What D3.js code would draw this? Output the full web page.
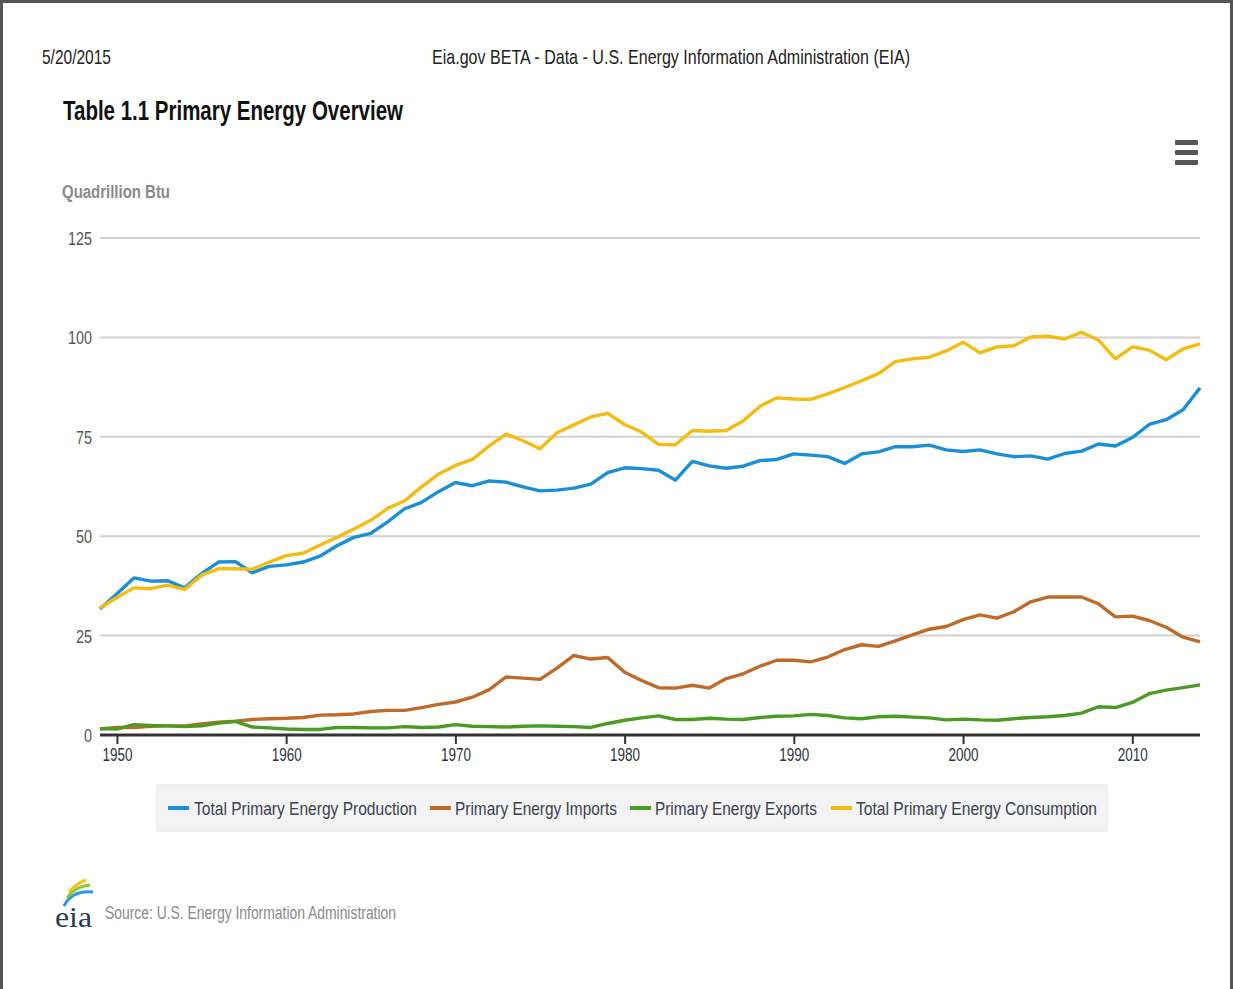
<!DOCTYPE html>
<html>
<head>
<meta charset="utf-8">
<script src="https://cdn.jsdelivr.net/npm/d3@7"></script>
<style>
  html, body { margin: 0; padding: 0; background: #fff; }
  svg { display: block; }
  text { font-family: "Liberation Sans Narrow", "Arial Narrow", "Liberation Sans", sans-serif; }
</style>
</head>
<body>
<svg id="chart" width="1234" height="989"></svg>
<script>
// annual values, quadrillion Btu, 1949 - 2014
const years = d3.range(1949, 2015);

const production = [
  31.7, 35.5, 39.5, 38.7, 38.8, 37.0, 40.6, 43.5, 43.6, 40.8,
  42.4, 42.8, 43.5, 45.0, 47.6, 49.7, 50.7, 53.6, 56.9, 58.5,
  61.2, 63.5, 62.7, 63.9, 63.6, 62.4, 61.4, 61.6, 62.1, 63.1,
  66.0, 67.2, 67.0, 66.6, 64.1, 68.8, 67.7, 67.1, 67.6, 69.0,
  69.3, 70.7, 70.4, 70.0, 68.3, 70.7, 71.2, 72.5, 72.5, 72.9,
  71.7, 71.3, 71.7, 70.7, 70.0, 70.2, 69.4, 70.8, 71.4, 73.2,
  72.7, 74.8, 78.1, 79.3, 81.8, 87.3
];

const imports = [
  1.5, 1.9, 1.9, 2.2, 2.3, 2.3, 2.8, 3.2, 3.5, 3.9,
  4.1, 4.2, 4.4, 5.0, 5.1, 5.3, 5.9, 6.2, 6.2, 6.9,
  7.7, 8.3, 9.5, 11.4, 14.6, 14.3, 14.0, 16.8, 20.0, 19.1,
  19.5, 15.8, 13.7, 11.9, 11.8, 12.5, 11.8, 14.2, 15.4, 17.3,
  18.8, 18.8, 18.4, 19.6, 21.5, 22.7, 22.3, 23.7, 25.2, 26.6,
  27.3, 29.0, 30.2, 29.4, 31.0, 33.5, 34.7, 34.7, 34.7, 33.0,
  29.7, 29.9, 28.8, 27.1, 24.6, 23.4
];

const exports = [
  1.6, 1.5, 2.6, 2.4, 2.3, 2.1, 2.3, 3.0, 3.4, 2.0,
  1.8, 1.5, 1.4, 1.4, 1.9, 1.9, 1.8, 1.8, 2.1, 1.9,
  2.0, 2.6, 2.2, 2.1, 2.0, 2.2, 2.3, 2.2, 2.1, 1.9,
  2.9, 3.7, 4.3, 4.8, 3.9, 3.9, 4.2, 4.0, 3.9, 4.4,
  4.7, 4.8, 5.2, 4.9, 4.3, 4.1, 4.6, 4.7, 4.5, 4.3,
  3.8, 4.0, 3.8, 3.7, 4.1, 4.4, 4.6, 4.9, 5.5, 7.1,
  6.9, 8.2, 10.4, 11.3, 11.9, 12.6
];

const consumption = [
  32.0, 34.6, 37.0, 36.8, 37.7, 36.6, 40.2, 41.8, 41.8, 41.7,
  43.5, 45.1, 45.7, 47.8, 49.7, 51.8, 54.0, 57.0, 58.9, 62.4,
  65.6, 67.8, 69.3, 72.7, 75.7, 74.0, 72.0, 76.0, 78.0, 80.0,
  80.9, 78.1, 76.2, 73.1, 73.0, 76.6, 76.4, 76.6, 79.0, 82.7,
  84.8, 84.5, 84.4, 85.8, 87.4, 89.1, 90.9, 93.9, 94.6, 95.0,
  96.6, 98.8, 96.1, 97.6, 97.9, 100.1, 100.3, 99.6, 101.3, 99.3,
  94.6, 97.6, 96.8, 94.4, 97.1, 98.4
];

const seriesNames = [
  'Total Primary Energy Production',
  'Primary Energy Imports',
  'Primary Energy Exports',
  'Total Primary Energy Consumption'
];
const seriesColors = ['#1b8fd6', '#c06a28', '#4a9a24', '#f4bc12'];
const seriesValues = [production, imports, exports, consumption];

const yTicks = [0, 25, 50, 75, 100, 125];
const xTicks = [1950, 1960, 1970, 1980, 1990, 2000, 2010];

const svg = d3.select('#chart');

// page frame
svg.append('rect')
  .attr('x', 1.5).attr('y', 1.5)
  .attr('width', 1230).attr('height', 1000)
  .attr('fill', 'none')
  .attr('stroke', '#555')
  .attr('stroke-width', 3);

// page header
svg.append('text')
  .attr('x', 42).attr('y', 64)
  .attr('font-size', 21)
  .attr('fill', '#222')
  .attr('textLength', 69).attr('lengthAdjust', 'spacingAndGlyphs')
  .text('5/20/2015');

svg.append('text')
  .attr('x', 432).attr('y', 64)
  .attr('font-size', 21)
  .attr('fill', '#222')
  .attr('textLength', 478).attr('lengthAdjust', 'spacingAndGlyphs')
  .text('Eia.gov BETA - Data - U.S. Energy Information Administration (EIA)');

// chart title
svg.append('text')
  .attr('x', 63).attr('y', 120)
  .attr('font-size', 27)
  .attr('font-weight', 'bold')
  .attr('fill', '#111')
  .attr('textLength', 340).attr('lengthAdjust', 'spacingAndGlyphs')
  .text('Table 1.1 Primary Energy Overview');

svg.append('text')
  .attr('x', 62).attr('y', 198)
  .attr('font-size', 18)
  .attr('font-weight', 'bold')
  .attr('fill', '#8a8a8a')
  .attr('textLength', 108).attr('lengthAdjust', 'spacingAndGlyphs')
  .text('Quadrillion Btu');

// context menu icon
svg.append('g')
  .selectAll('rect')
  .data([0, 1, 2])
  .join('rect')
  .attr('x', 1175)
  .attr('y', d => 140 + d * 10)
  .attr('width', 23)
  .attr('height', 5)
  .attr('rx', 1)
  .attr('fill', '#555');

const x = d3.scaleLinear().domain([1949, 2014]).range([100, 1200]);
const y = d3.scaleLinear().domain([0, 125]).range([735, 238]);

// grid
svg.append('g')
  .selectAll('line')
  .data(yTicks.filter(d => d > 0))
  .join('line')
  .attr('x1', x(1949)).attr('x2', x(2014))
  .attr('y1', d => y(d)).attr('y2', d => y(d))
  .attr('stroke', '#cfcfcf')
  .attr('stroke-width', 2);

// y labels
svg.append('g')
  .selectAll('text')
  .data(yTicks)
  .join('text')
  .attr('x', 92)
  .attr('y', d => y(d) + 7)
  .attr('text-anchor', 'end')
  .attr('font-size', 18)
  .attr('fill', '#555')
  .attr('textLength', d => String(d).length * 8)
  .attr('lengthAdjust', 'spacingAndGlyphs')
  .text(d => d);

// x axis
const xAxis = d3.axisBottom(x)
  .tickValues(xTicks)
  .tickFormat(d3.format('d'))
  .tickSize(9)
  .tickPadding(4);

const gx = svg.append('g')
  .attr('transform', `translate(0,${y(0)})`)
  .call(xAxis);

gx.select('.domain')
  .attr('d', `M${x(1949)},0H${x(2014)}`)
  .attr('stroke', '#333')
  .attr('stroke-width', 3);
gx.selectAll('.tick line').attr('stroke', '#333').attr('stroke-width', 2);
gx.selectAll('.tick text')
  .attr('font-size', 18)
  .attr('fill', '#2c3440')
  .attr('textLength', 30)
  .attr('lengthAdjust', 'spacingAndGlyphs')
  .style('font-family', '"Liberation Sans Narrow", "Arial Narrow", sans-serif');

// series lines
const line = d3.line()
  .x((d, i) => x(years[i]))
  .y(d => y(d));

svg.append('g')
  .selectAll('path')
  .data(seriesValues)
  .join('path')
  .attr('d', d => line(d))
  .attr('fill', 'none')
  .attr('stroke', (d, i) => seriesColors[i])
  .attr('stroke-width', 3.4)
  .attr('stroke-linejoin', 'round');

// legend
const legend = svg.append('g');
legend.append('rect')
  .attr('x', 157).attr('y', 785)
  .attr('width', 950).attr('height', 46)
  .attr('fill', '#f3f3f3')
  .attr('stroke', '#e6e6e6');

const legendItems = [
  { sx: 168, tx: 194, tw: 223 },
  { sx: 430, tx: 455, tw: 162 },
  { sx: 630, tx: 655, tw: 162 },
  { sx: 831, tx: 856, tw: 241 }
];

const item = legend.selectAll('g.item')
  .data(legendItems)
  .join('g')
  .attr('class', 'item');

item.append('line')
  .attr('x1', d => d.sx).attr('x2', d => d.sx + 21)
  .attr('y1', 808).attr('y2', 808)
  .attr('stroke', (d, i) => seriesColors[i])
  .attr('stroke-width', 4);

item.append('text')
  .attr('x', d => d.tx).attr('y', 815)
  .attr('font-size', 19)
  .attr('fill', '#3a4250')
  .attr('textLength', d => d.tw).attr('lengthAdjust', 'spacingAndGlyphs')
  .text((d, i) => seriesNames[i]);

// eia logo + source
const logo = svg.append('g');
logo.append('path')
  .attr('d', 'M64,906 Q72,890 93,892')
  .attr('fill', 'none')
  .attr('stroke', '#2a9ad8')
  .attr('stroke-width', 3);
logo.append('path')
  .attr('d', 'M67,898 Q75,886 90,885')
  .attr('fill', 'none')
  .attr('stroke', '#8cc63e')
  .attr('stroke-width', 3);
logo.append('path')
  .attr('d', 'M69,892 Q77,883 86,880')
  .attr('fill', 'none')
  .attr('stroke', '#f2c21b')
  .attr('stroke-width', 3);
logo.append('text')
  .attr('x', 55).attr('y', 927)
  .attr('font-size', 30)
  .attr('fill', '#2b3a55')
  .style('font-family', '"Liberation Serif", "DejaVu Serif", serif')
  .attr('textLength', 37).attr('lengthAdjust', 'spacingAndGlyphs')
  .text('eia');

svg.append('text')
  .attr('x', 105).attr('y', 919)
  .attr('font-size', 18)
  .attr('fill', '#8a8a8a')
  .attr('textLength', 291).attr('lengthAdjust', 'spacingAndGlyphs')
  .text('Source: U.S. Energy Information Administration');
</script>
</body>
</html>
